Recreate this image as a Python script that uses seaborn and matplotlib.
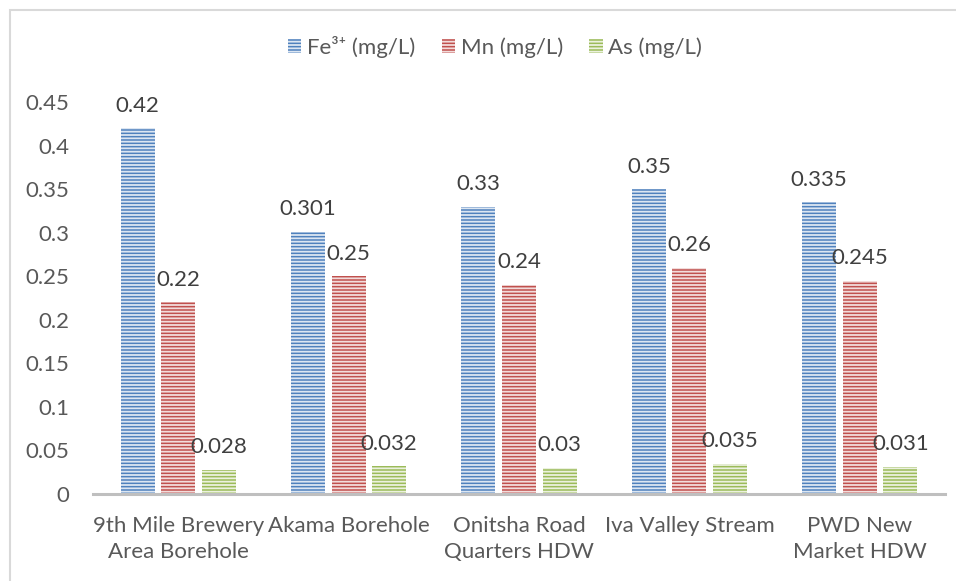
import matplotlib
matplotlib.use("Agg")
import matplotlib.pyplot as plt
import seaborn as sns
import pandas as pd
from matplotlib.patches import Patch, Rectangle
from matplotlib.ticker import FuncFormatter

categories = ["9th Mile Brewery\nArea Borehole", "Akama Borehole", "Onitsha Road\nQuarters HDW",
              "Iva Valley Stream", "PWD New\nMarket HDW"]
series_names = ["Fe³⁺ (mg/L)", "Mn (mg/L)", "As (mg/L)"]
fe_values = [0.42, 0.301, 0.33, 0.35, 0.335]
mn_values = [0.22, 0.25, 0.24, 0.26, 0.245]
as_values = [0.028, 0.032, 0.03, 0.035, 0.031]
y_ticks = [0, 0.05, 0.1, 0.15, 0.2, 0.25, 0.3, 0.35, 0.4, 0.45]

colors = ["#4F81BD", "#C0504D", "#9BBB59"]
hatch_colors = ["#DCE6F2", "#F2DCDB", "#EBF1DE"]

rows = []
for name, vals in zip(series_names, [fe_values, mn_values, as_values]):
    for c, v in zip(categories, vals):
        rows.append({"cat": c, "series": name, "value": v})
df = pd.DataFrame(rows)

sns.set_style("white")
plt.rcParams["font.family"] = ["Lato", "DejaVu Sans"]
plt.rcParams["hatch.linewidth"] = 1.3

FS = 16

fig = plt.figure(figsize=(9.56, 5.81), dpi=100)
ax = fig.add_axes([93/956, 1-494/581, (945-93)/956, (494-102)/581])

sns.barplot(data=df, x="cat", y="value", hue="series", order=categories,
            hue_order=series_names, palette=colors, width=0.714, gap=0.16,
            saturation=1, ax=ax, legend=False, linewidth=0)

for cont, hc in zip(ax.containers, hatch_colors):
    for p in cont:
        p.set_hatch("-----")
        p.set_edgecolor(hc)
        p.set_linewidth(0)
    ax.bar_label(cont, labels=[f"{v:g}" for v in cont.datavalues], padding=9,
                 fontsize=FS, color="#404040", clip_on=False)

ax.set_ylim(0, 0.45)
ax.set_xlim(-0.5, 4.5)
ax.set_yticks(y_ticks)
ax.yaxis.set_major_formatter(FuncFormatter(lambda v, p: f"{v:g}"))
ax.tick_params(axis="both", length=0, labelsize=FS, labelcolor="#595959")
ax.tick_params(axis="x", pad=16)
ax.tick_params(axis="y", pad=17)
for t in ax.get_xticklabels():
    t.set_linespacing(1.35)
ax.set_xlabel("")
ax.set_ylabel("")
for s in ["top", "right", "left"]:
    ax.spines[s].set_visible(False)
ax.spines["bottom"].set_color("#BFBFBF")
ax.spines["bottom"].set_linewidth(2.2)

handles = [Patch(facecolor=c, edgecolor=hc, hatch="-----", linewidth=0)
           for c, hc in zip(colors, hatch_colors)]
leg = fig.legend(handles, series_names, loc="center", ncol=3,
                 bbox_to_anchor=(495/956, 1-47/581), frameon=False,
                 fontsize=FS, handlelength=0.6, handleheight=0.6,
                 handletextpad=0.25, columnspacing=1.2)
for t in leg.get_texts():
    t.set_color("#595959")

fig.patches.append(Rectangle((10/956, -0.1), 1.2, 1 - 10/581 + 0.1,
                             transform=fig.transFigure, fill=False,
                             edgecolor="#D9D9D9", linewidth=1.5))

fig.savefig("out.png", dpi=100)
